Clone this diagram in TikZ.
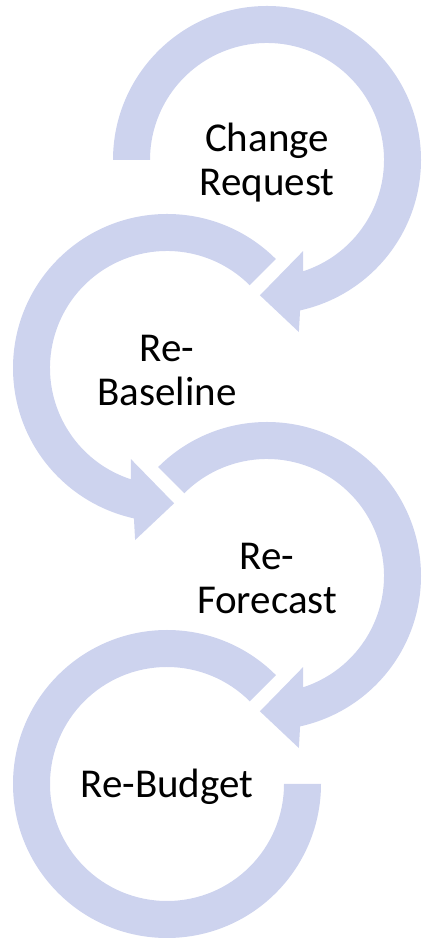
\documentclass[tikz,border=0pt]{standalone}
\usepackage{fontspec}
\setmainfont{Carlito}
\definecolor{arrowfill}{RGB}{205,211,238}
\tikzset{
  ringfill/.style={fill=arrowfill, draw=none},
  steplabel/.style={align=center, font=\fontsize{41}{44}\selectfont, text=black, inner sep=0pt, yshift=-3pt}
}
\begin{document}
\begin{tikzpicture}[x=1pt,y=1pt]
\useasboundingbox (0,0) rectangle (421,939);
% centres
\coordinate (c1) at (267,779);
\coordinate (c2) at (167,571);
\coordinate (c3) at (267,363);
\coordinate (c4) at (167,155);
% ring 1: clockwise from 180
\begin{scope}[shift={(c1)}]
\fill[ringfill] (180:154) arc[start angle=180, end angle=-77.6, radius=154]
  -- (-79.5:175) -- (-93:135.5) -- (-68.4:98) -- (-72:117)
  arc[start angle=-72, end angle=180, radius=117] -- cycle;
\end{scope}
% ring 2: counter-clockwise from 45
\begin{scope}[shift={(c2)}]
\fill[ringfill] (45:154) arc[start angle=45, end angle=257.6, radius=154]
  -- (259.5:175) -- (273:135.5) -- (248.4:98) -- (252:117)
  arc[start angle=252, end angle=45, radius=117] -- cycle;
\end{scope}
% ring 3: clockwise from 135
\begin{scope}[shift={(c3)}]
\fill[ringfill] (135:154) arc[start angle=135, end angle=-77.6, radius=154]
  -- (-79.5:175) -- (-93:135.5) -- (-68.4:98) -- (-72:117)
  arc[start angle=-72, end angle=135, radius=117] -- cycle;
\end{scope}
% ring 4: counter-clockwise from 45 to 360, no head
\begin{scope}[shift={(c4)}]
\fill[ringfill] (45:154) arc[start angle=45, end angle=360, radius=154]
  -- (0:117) arc[start angle=360, end angle=45, radius=117] -- cycle;
\end{scope}
% labels
\node[steplabel] (t1) at (c1) {Change\\Request};
\node[steplabel] (t2) at (c2) {Re-\\Baseline};
\node[steplabel] (t3) at (c3) {Re-\\Forecast};
\node[steplabel] (t4) at (c4) {Re-Budget};
\end{tikzpicture}
\end{document}
